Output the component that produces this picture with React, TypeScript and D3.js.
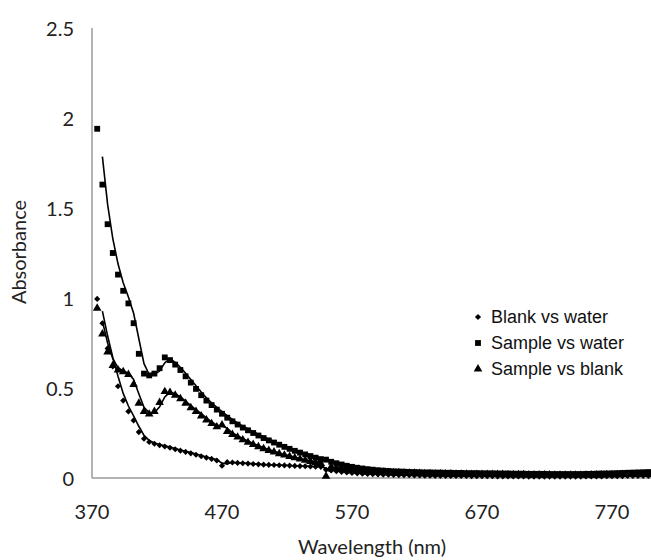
import React from 'react';
import * as d3 from 'd3';

// wavelength grid of the spectra (nm)
const wavelengths = [
  374, 378, 382, 386, 390, 394, 398, 402, 406, 410, 414, 418, 422, 426, 430, 434, 438, 442, 446, 450,
  454, 458, 462, 466, 470, 474, 478, 482, 486, 490, 494, 498, 502, 506, 510, 514, 518, 522, 526, 530,
  534, 538, 542, 546, 550, 554, 558, 562, 566, 570, 574, 578, 582, 586, 590, 594, 598, 602, 606, 610,
  614, 618, 622, 626, 630, 634, 638, 642, 646, 650, 654, 658, 662, 666, 670, 674, 678, 682, 686, 690,
  694, 698, 702, 706, 710, 714, 718, 722, 726, 730, 734, 738, 742, 746, 750, 754, 758, 762, 766, 770,
  774, 778, 782, 786, 790, 794, 798,
];

const blankVsWater = [
  0.995, 0.86, 0.72, 0.62, 0.51, 0.43, 0.37, 0.32, 0.255, 0.218, 0.2, 0.19, 0.182, 0.175, 0.168, 0.16, 0.152, 0.145, 0.137, 0.129,
  0.121, 0.113, 0.106, 0.097, 0.068, 0.088, 0.086, 0.084, 0.082, 0.08, 0.078, 0.076, 0.074, 0.073, 0.072, 0.071, 0.07, 0.069, 0.067, 0.066,
  0.065, 0.064, 0.063, 0.062, 0.046, 0.042, 0.038, 0.034, 0.031, 0.028, 0.026, 0.024, 0.022, 0.021, 0.02, 0.019, 0.018, 0.017, 0.016, 0.015,
  0.015, 0.014, 0.014, 0.013, 0.013, 0.012, 0.012, 0.012, 0.011, 0.011, 0.011, 0.011, 0.01, 0.01, 0.01, 0.01, 0.01, 0.009, 0.009, 0.009,
  0.009, 0.009, 0.009, 0.008, 0.008, 0.008, 0.008, 0.008, 0.008, 0.008, 0.008, 0.008, 0.008, 0.008, 0.009, 0.009, 0.009, 0.009, 0.01, 0.01,
  0.01, 0.01, 0.011, 0.011, 0.011, 0.012, 0.012,
];

const sampleVsWater = [
  1.94, 1.63, 1.41, 1.25, 1.13, 1.04, 0.97, 0.86, 0.69, 0.58, 0.57, 0.58, 0.61, 0.67, 0.655, 0.63, 0.6, 0.565, 0.53, 0.495,
  0.46, 0.43, 0.405, 0.38, 0.357, 0.335, 0.315, 0.297, 0.28, 0.265, 0.25, 0.236, 0.222, 0.209, 0.197, 0.185, 0.173, 0.162, 0.151, 0.141,
  0.131, 0.122, 0.113, 0.105, 0.102, 0.09, 0.082, 0.075, 0.068, 0.062, 0.057, 0.053, 0.049, 0.046, 0.043, 0.041, 0.039, 0.037, 0.036, 0.035,
  0.034, 0.033, 0.032, 0.031, 0.031, 0.03, 0.03, 0.029, 0.029, 0.028, 0.028, 0.027, 0.027, 0.027, 0.026, 0.026, 0.026, 0.025, 0.025, 0.025,
  0.024, 0.024, 0.024, 0.023, 0.023, 0.023, 0.023, 0.022, 0.022, 0.022, 0.022, 0.022, 0.022, 0.022, 0.023, 0.023, 0.024, 0.025, 0.025, 0.026,
  0.027, 0.028, 0.029, 0.03, 0.031, 0.032, 0.033,
];

const sampleVsBlank = [
  0.943, 0.8, 0.7, 0.625, 0.6, 0.59, 0.575, 0.52, 0.415, 0.37, 0.355, 0.37, 0.42, 0.48, 0.475, 0.46, 0.44, 0.415, 0.39, 0.37,
  0.345, 0.322, 0.302, 0.284, 0.295, 0.258, 0.242, 0.227, 0.212, 0.198, 0.186, 0.174, 0.163, 0.153, 0.144, 0.135, 0.127, 0.119, 0.112, 0.105,
  0.098, 0.092, 0.086, 0.08, 0.01, 0.062, 0.057, 0.052, 0.048, 0.045, 0.042, 0.04, 0.038, 0.036, 0.034, 0.032, 0.031, 0.03, 0.029, 0.028,
  0.027, 0.026, 0.025, 0.024, 0.024, 0.023, 0.023, 0.022, 0.022, 0.021, 0.021, 0.021, 0.02, 0.02, 0.02, 0.02, 0.019, 0.019, 0.019, 0.018,
  0.018, 0.018, 0.018, 0.017, 0.017, 0.017, 0.017, 0.017, 0.016, 0.016, 0.016, 0.016, 0.016, 0.016, 0.016, 0.017, 0.017, 0.017, 0.018, 0.018,
  0.018, 0.019, 0.019, 0.019, 0.02, 0.02, 0.02,
];

const seriesNames = ['Blank vs water', 'Sample vs water', 'Sample vs blank'];
const xTicks = [370, 470, 570, 670, 770];
const yTicks = [0, 0.5, 1, 1.5, 2, 2.5];

const width = 651;
const height = 560;

const x = d3.scaleLinear().domain([370, 800]).range([92, 651]);
const y = d3.scaleLinear().domain([0, 2.5]).range([478, 28]);

const symbols = [
  d3.symbol(d3.symbolDiamond2, 24)(),
  d3.symbol(d3.symbolSquare, 34)(),
  d3.symbol(d3.symbolTriangle, 32)(),
];

const allSeries = [blankVsWater, sampleVsWater, sampleVsBlank];

// 2 period moving average trendline, like excel draws it
function movingAverage(vals) {
  const pts = [];
  for (let i = 1; i < vals.length; i++) {
    pts.push([wavelengths[i], (vals[i] + vals[i - 1]) / 2]);
  }
  return pts;
}

const line = d3.line().x(d => x(d[0])).y(d => y(d[1]));

export default function App() {
  const labelFont = 'Lato, "Open Sans", sans-serif';
  return (
    <div style={{ position: 'absolute', left: 0, top: 0 }}>
      <svg width={width} height={height} style={{ display: 'block', background: '#fff' }}>
        {/* axes */}
        <line x1={x(370)} x2={x(370)} y1={y(2.5)} y2={y(0)} stroke="#9a9a9a" strokeWidth={1.5} />
        <line x1={x(370)} x2={width} y1={y(0)} y2={y(0)} stroke="#9a9a9a" strokeWidth={1.5} />

        {yTicks.map(t => (
          <text key={'y' + t} x={74} y={y(t)} textAnchor="end" dominantBaseline="central"
                fontFamily={labelFont} fontSize={20} fill="#222">{t}</text>
        ))}
        {xTicks.map(t => (
          <text key={'x' + t} x={x(t)} y={511} textAnchor="middle" dominantBaseline="central"
                fontFamily={labelFont} fontSize={20} fill="#222">{t}</text>
        ))}

        <text transform={`translate(18,252) rotate(-90)`} textAnchor="middle" dominantBaseline="central"
              fontFamily={labelFont} fontSize={20} fill="#222">Absorbance</text>
        <text x={372} y={546} textAnchor="middle" dominantBaseline="central"
              fontFamily={labelFont} fontSize={20} fill="#222">Wavelength (nm)</text>

        {/* trendlines */}
        {allSeries.map((vals, i) => (
          <path key={'l' + i} d={line(movingAverage(vals))} fill="none" stroke="#000" strokeWidth={1.6} />
        ))}

        {/* markers */}
        {allSeries.map((vals, i) => (
          <g key={'m' + i}>
            {vals.map((v, j) => (
              <path key={j} d={symbols[i]} transform={`translate(${x(wavelengths[j])},${y(v)})`} fill="#000" />
            ))}
          </g>
        ))}

        {/* legend */}
        {seriesNames.map((name, i) => (
          <g key={name} transform={`translate(478,${317 + i * 26})`}>
            <path d={symbols[i]} fill="#000" />
            <text x={13} y={0} dominantBaseline="central" fontFamily='"Liberation Sans", Arial, sans-serif'
                  fontSize={18} fill="#111">{name}</text>
          </g>
        ))}
      </svg>
    </div>
  );
}
